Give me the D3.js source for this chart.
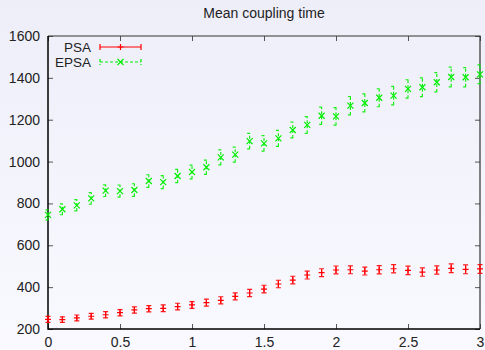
<!DOCTYPE html>
<html>
<head>
<meta charset="utf-8">
<script src="https://cdn.jsdelivr.net/npm/d3@7"></script>
<style>
  html, body { margin: 0; padding: 0; background: #f5f5fc; }
  svg { display: block; font-family: "Liberation Sans", Arial, sans-serif; }
</style>
</head>
<body>
<div id="chart"></div>
<script>
// data
const xs = [0, 0.1, 0.2, 0.3, 0.4, 0.5, 0.6, 0.7, 0.8, 0.9, 1.0, 1.1, 1.2, 1.3, 1.4, 1.5,
  1.6, 1.7, 1.8, 1.9, 2.0, 2.1, 2.2, 2.3, 2.4, 2.5, 2.6, 2.7, 2.8, 2.9, 3.0];
const psa = [246, 245, 253, 261, 268, 278, 291, 297, 299, 307, 315, 326, 337, 356, 372, 391,
  415, 434, 458, 469, 482, 483, 477, 483, 488, 480, 472, 482, 490, 485, 487];
const psaErr = [14, 13, 14, 14, 15, 15, 15, 15, 16, 16, 16, 17, 17, 17, 17, 18,
  18, 18, 19, 19, 19, 19, 19, 20, 20, 20, 20, 20, 21, 21, 21];
const epsa = [745, 772, 791, 824, 861, 859, 864, 907, 902, 931, 950, 973, 1020, 1033, 1098, 1087,
  1111, 1151, 1175, 1219, 1216, 1267, 1280, 1305, 1315, 1347, 1355, 1379, 1404, 1403, 1417];
const epsaErr = [24, 26, 27, 28, 28, 29, 30, 30, 31, 32, 33, 34, 36, 36, 37, 37,
  38, 38, 40, 41, 42, 44, 43, 43, 44, 44, 45, 46, 47, 46, 45];
const xTicks = [0, 0.5, 1, 1.5, 2, 2.5, 3];
const yTicks = [200, 400, 600, 800, 1000, 1200, 1400, 1600];
const title = 'Mean coupling time';

const W = 485, H = 350;
const plotL = 48, plotR = 480, plotT = 36, plotB = 329;

const svg = d3.select('#chart').append('svg')
  .attr('width', W).attr('height', H);

const grad = svg.append('defs').append('linearGradient')
  .attr('id', 'bg').attr('x1', 0).attr('y1', 0).attr('x2', 0).attr('y2', 1);
grad.append('stop').attr('offset', '0%').attr('stop-color', '#eeeef9');
grad.append('stop').attr('offset', '100%').attr('stop-color', '#f9f9ff');
svg.append('rect').attr('width', W).attr('height', H).attr('fill', 'url(#bg)');

const x = d3.scaleLinear().domain([0, 3]).range([plotL, plotR]);
const y = d3.scaleLinear().domain([200, 1600]).range([plotB, plotT]);

// ticks on all four sides, pointing in
const tickLen = 5;
const bottomAxis = svg.append('g').attr('transform', `translate(0,${plotB})`)
  .call(d3.axisBottom(x).tickValues(xTicks).tickSizeInner(-tickLen).tickSizeOuter(0)
    .tickPadding(8).tickFormat(d3.format('')));
const leftAxis = svg.append('g').attr('transform', `translate(${plotL},0)`)
  .call(d3.axisLeft(y).tickValues(yTicks).tickSizeInner(-tickLen).tickSizeOuter(0)
    .tickPadding(8).tickFormat(d3.format('')));
const topAxis = svg.append('g').attr('transform', `translate(0,${plotT})`)
  .call(d3.axisTop(x).tickValues(xTicks).tickSizeInner(-tickLen).tickSizeOuter(0).tickFormat(''));
const rightAxis = svg.append('g').attr('transform', `translate(${plotR},0)`)
  .call(d3.axisRight(y).tickValues(yTicks).tickSizeInner(-tickLen).tickSizeOuter(0).tickFormat(''));

[bottomAxis, leftAxis, topAxis, rightAxis].forEach(g => {
  g.select('.domain').remove();
  g.selectAll('.tick line').attr('stroke', '#555');
  g.selectAll('.tick text').attr('fill', '#222')
    .style('font-size', '14px').style('font-family', '"Liberation Sans", Arial, sans-serif');
});

// frame
svg.append('path')
  .attr('d', `M${plotL},${plotT}H${plotR}V${plotB}`)
  .attr('fill', 'none').attr('stroke', '#333').attr('stroke-width', 1.2);
svg.append('path')
  .attr('d', `M${plotL},${plotT}V${plotB}H${plotR}`)
  .attr('fill', 'none').attr('stroke', '#000').attr('stroke-width', 1.5);

svg.append('text')
  .attr('x', (plotL + plotR) / 2).attr('y', 18)
  .attr('text-anchor', 'middle').attr('fill', '#222')
  .style('font-size', '14px').text(title);

const series = [
  { name: 'PSA', vals: psa, errs: psaErr, color: '#ff0000', dash: null, mark: 'plus' },
  { name: 'EPSA', vals: epsa, errs: epsaErr, color: '#00ee00', dash: '3,2', mark: 'cross' }
];

function drawMark(g, cx, cy, s) {
  const r = 3;
  const d = s.mark === 'plus'
    ? `M${cx - r},${cy}H${cx + r}M${cx},${cy - r}V${cy + r}`
    : `M${cx - r},${cy - r}L${cx + r},${cy + r}M${cx - r},${cy + r}L${cx + r},${cy - r}`;
  g.append('path').attr('d', d).attr('stroke', s.color).attr('stroke-width', 1.2).attr('fill', 'none');
}

series.forEach(s => {
  const g = svg.append('g');
  const cap = 2.5;
  xs.forEach((xv, i) => {
    const cx = x(xv);
    const y0 = y(s.vals[i] - s.errs[i]), y1 = y(s.vals[i] + s.errs[i]);
    g.append('path')
      .attr('d', `M${cx},${y0}V${y1}M${cx - cap},${y0}H${cx + cap}M${cx - cap},${y1}H${cx + cap}`)
      .attr('stroke', s.color).attr('stroke-width', 1.2).attr('fill', 'none')
      .attr('stroke-dasharray', s.dash).attr('opacity', 0.9);
    drawMark(g, cx, y(s.vals[i]), s);
  });
});

// legend
const legX0 = 100, legX1 = 141, legTextX = 91;
series.forEach((s, i) => {
  const ly = 47 + i * 15;
  const g = svg.append('g');
  g.append('text').attr('x', legTextX).attr('y', ly).attr('dy', '0.35em')
    .attr('text-anchor', 'end').attr('fill', '#222').style('font-size', '13.5px').text(s.name);
  g.append('path')
    .attr('d', `M${legX0},${ly}H${legX1}M${legX0},${ly - 3}V${ly + 3}M${legX1},${ly - 3}V${ly + 3}`)
    .attr('stroke', s.color).attr('stroke-width', 1.2).attr('fill', 'none')
    .attr('stroke-dasharray', s.dash);
  drawMark(g, (legX0 + legX1) / 2, ly, s);
});
</script>
</body>
</html>
